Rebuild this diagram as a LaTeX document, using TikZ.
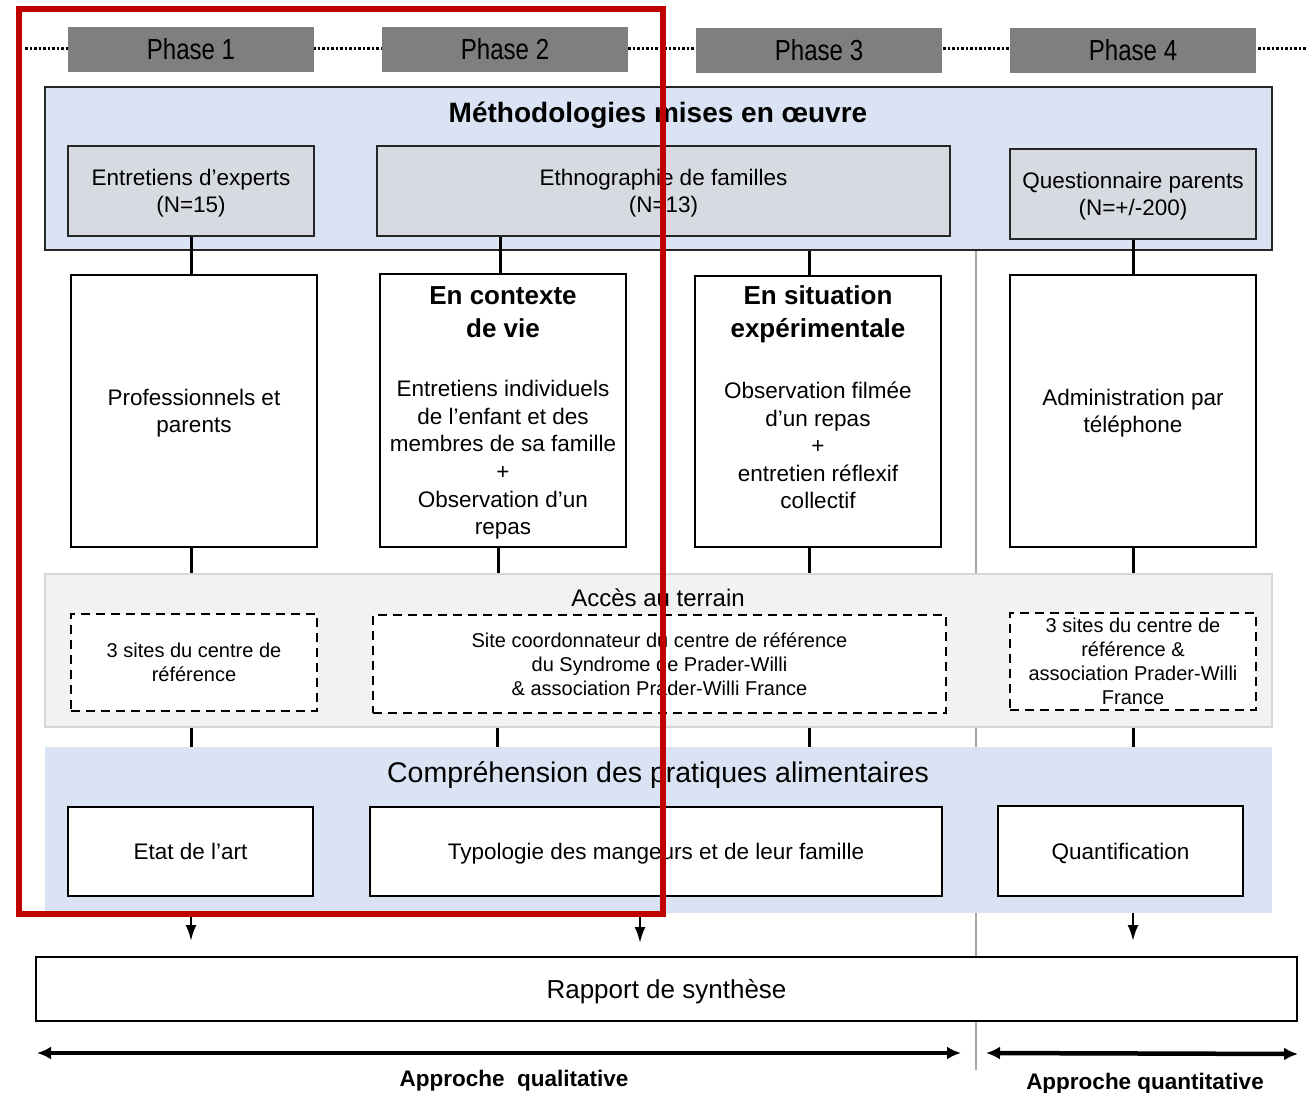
\documentclass[tikz,border=0pt]{standalone}
\usepackage{fontspec}
\setmainfont{Liberation Sans}
\newfontfamily\phasefont[FakeStretch=0.83]{Liberation Sans}
\usetikzlibrary{calc, arrows.meta, positioning}
\definecolor{phasegray}{HTML}{7F7F7F}
\definecolor{bandblue}{HTML}{DAE3F3}
\definecolor{methgray}{HTML}{D7DAE1}
\definecolor{panelgray}{HTML}{F2F2F2}
\definecolor{panelline}{HTML}{D6D6D6}
\definecolor{sepgray}{HTML}{A6A6A6}
\definecolor{framered}{HTML}{C00000}
\tikzset{
  phasebox/.style={fill=phasegray, inner sep=0pt, minimum width=246pt, minimum height=45pt,
    font=\phasefont\fontsize{29}{34}\selectfont, text=black},
  panel/.style={inner sep=0pt, minimum width=1227pt},
  methbox/.style={draw=black!85, line width=2pt, fill=methgray, inner sep=0pt, align=center,
    minimum height=90pt, text depth=0pt, font=\fontsize{22.5}{26.5}\selectfont},
  tallbox/.style={draw=black, line width=2pt, fill=white, inner sep=0pt, minimum width=246pt},
  sitebox/.style={draw=black, line width=2pt, dashed, dash pattern=on 9pt off 6pt, fill=white,
    inner sep=0pt, align=center, text depth=0pt, font=\fontsize{20}{24}\selectfont},
  resbox/.style={draw=black, line width=2pt, fill=white, inner sep=0pt, align=center,
    text depth=0pt, font=\fontsize{22.5}{26.5}\selectfont},
  txt/.style={inner sep=0pt, align=center, text depth=0pt, font=\fontsize{22.5}{26.5}\selectfont},
  bodytxt/.style={inner sep=0pt, align=center, text depth=0pt, font=\fontsize{22.5}{27.6}\selectfont},
  ttl/.style={inner sep=0pt, align=center, font=\bfseries\fontsize{26}{33}\selectfont},
  head/.style={inner sep=0pt, text depth=0pt},
  conn/.style={line width=3pt},
  arr/.style={line width=2.5pt, -{Latex[length=16pt, width=11pt]}},
  span/.style={line width=4.5pt, {Latex[length=14pt, width=13pt]}-{Latex[length=14pt, width=13pt]}},
}

\begin{document}
\begin{tikzpicture}[x=1pt, y=-1pt]
\useasboundingbox (0,0) rectangle (1306,1092);
% Coordinates
\coordinate (dotL) at (25,48);
\coordinate (dotR) at (1306,48);
\coordinate (sepT) at (976,251);
\coordinate (sepB) at (976,1070);
% ---- Phases ----
\draw[line width=3pt, dash pattern=on 2.5pt off 2pt] (dotL) -- (dotR);
\node[phasebox] (ph1) at (191,49.5) {Phase 1};
\node[phasebox] (ph2) at (505,49.5) {Phase 2};
\node[phasebox] (ph3) at (819,50) {Phase 3};
\node[phasebox] (ph4) at (1133,50.5) {Phase 4};
% Separator qualitative / quantitative (behind the panels)
\draw[sepgray, line width=2pt] (sepT) -- (sepB);
% ---- Methodologies ----
\node[panel, fill=bandblue, draw=black!85, line width=2pt, minimum height=163pt] (meth) at (658.5,168.5) {};
\node[head, font=\bfseries\fontsize{28}{34}\selectfont] (methT) at (658,112) {Méthodologies mises en œuvre};
\node[methbox, minimum width=246pt] (exp) at (191,191) {Entretiens d’experts\\(N=15)};
\node[methbox, minimum width=573pt] (eth) at (663.5,191) {Ethnographie de familles\\(N=13)};
\node[methbox, minimum width=246pt] (que) at (1133,194) {Questionnaire parents\\(N=+/-200)};
% ---- Terrain boxes ----
\node[tallbox, minimum height=272pt] (pro) at (194,411) {};
\node[tallbox, minimum height=273pt] (ctx) at (503,410.5) {};
\node[tallbox, minimum height=271pt] (lab) at (818,411.5) {};
\node[tallbox, minimum height=272pt] (tel) at (1133,411) {};
\node[txt] (proT) at (pro) {Professionnels et\\parents};
\node[ttl] (ctxT) at (503,312) {En contexte\\de vie};
\node[bodytxt] (ctxB) at (503,457.5) {Entretiens individuels\\de l’enfant et des\\membres de sa famille\\+\\Observation d’un\\repas};
\node[ttl] (labT) at (818,314) {En situation\\expérimentale};
\node[bodytxt] (labB) at (818,445.5) {Observation filmée\\d’un repas\\+\\entretien réflexif\\collectif};
\node[txt] (telT) at (tel) {Administration par\\téléphone};
\draw[conn] (exp.south) -- (exp.south |- pro.north);
\draw[conn] (ctx.north -| 500,0) -- (eth.south -| 500,0);
\draw[conn] (lab.north -| 809,0) -- (meth.south -| 809,0);
\draw[conn] (que.south) -- (tel.north);
% ---- Acces au terrain ----
\node[panel, fill=panelgray, draw=panelline, line width=1.5pt, minimum height=153pt] (acc) at (658.5,650.5) {};
\node[head, font=\fontsize{24}{29}\selectfont] (accT) at (658,598) {Accès au terrain};
\node[sitebox, minimum width=246pt, minimum height=97pt] (d1) at (194,662.5) {3 sites du centre de\\référence};
\node[sitebox, minimum width=573pt, minimum height=98pt] (d2) at (659.5,664) {Site coordonnateur du centre de référence\\du Syndrome de Prader-Willi\\\& association Prader-Willi France};
\node[sitebox, minimum width=246pt, minimum height=97pt] (d3) at (1133,661.5) {3 sites du centre de\\référence \&\\association Prader-Willi\\France};
\draw[conn] (exp.south |- pro.south) -- (exp.south |- acc.north);
\draw[conn] (ctx.south -| 498,0) -- (acc.north -| 498,0);
\draw[conn] (lab.south -| 809,0) -- (acc.north -| 809,0);
\draw[conn] (tel.south) -- (tel.south |- acc.north);
% ---- Comprehension ----
\node[panel, fill=bandblue, minimum height=166pt] (band) at (658.5,830) {};
\draw[conn] (acc.south -| exp.south) -- (band.north -| exp.south);
\draw[conn] (acc.south -| 497,0) -- (band.north -| 497,0);
\draw[conn] (acc.south -| 809,0) -- (band.north -| 809,0);
\draw[conn] (acc.south -| tel.south) -- (band.north -| tel.south);
\node[head, font=\fontsize{28.5}{34}\selectfont] (bandT) at (658,772) {Compréhension des pratiques alimentaires};
\node[resbox, minimum width=245pt, minimum height=89pt] (etat) at (190.5,851.5) {Etat de l’art};
\node[resbox, minimum width=572pt, minimum height=89pt] (typ) at (656,851.5) {Typologie des mangeurs et de leur famille};
\node[resbox, minimum width=245pt, minimum height=90pt] (qnt) at (1120.5,851) {Quantification};
% ---- Synthese ----
\coordinate (arrA) at (191,941);
\coordinate (arrB) at (640,943);
\coordinate (arrC) at (1133,941);
\draw[arr] (band.south -| arrA) -- (arrA);
\draw[arr] (band.south -| arrB) -- (arrB);
\draw[arr] (band.south -| arrC) -- (arrC);
\node[resbox, minimum width=1261pt, minimum height=64pt, font=\fontsize{26}{31}\selectfont] (rap) at (666.5,989) {Rapport de synthèse};
% Approaches
\coordinate (qlL) at (37,1053);
\coordinate (qlR) at (961,1053);
\coordinate (qnL) at (986,1053);
\coordinate (qnR) at (1298,1054);
\draw[span] (qlL) -- (qlR);
\draw[span] (qnL) -- (qnR);
\node[head, font=\bfseries\fontsize{22.5}{27}\selectfont] (qlT) at (514,1078) {Approche~ qualitative};
\node[head, font=\bfseries\fontsize{22.5}{27}\selectfont] (qnT) at (1145,1081) {Approche quantitative};
% Red frame
\draw[framered, line width=6pt] (19,9) rectangle (663,914);
\end{tikzpicture}
\end{document}
